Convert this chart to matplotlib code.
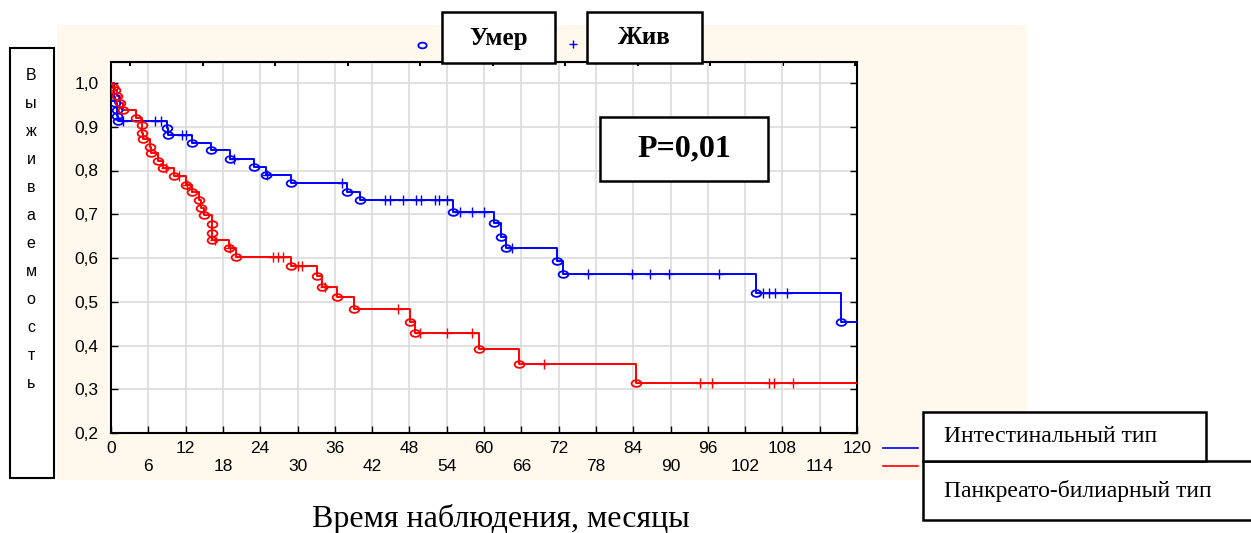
import numpy as np
import matplotlib.pyplot as plt
from matplotlib.patches import Rectangle
from matplotlib.path import Path
from matplotlib.transforms import Affine2D

# intestinal type: deaths (time, survival after death) and censored times
int_death_t = [0.5, 0.7, 0.9, 1.0, 1.1, 9.0, 9.2, 13.1, 16.1, 19.1, 23.0, 25.0,
               29.0, 38.0, 40.0, 55.0, 61.6, 62.7, 63.6, 71.7, 72.7, 103.7, 117.4]
int_death_s = [0.969, 0.954, 0.938, 0.925, 0.914, 0.898, 0.881, 0.864, 0.846,
               0.827, 0.807, 0.789, 0.771, 0.751, 0.733, 0.706, 0.679, 0.649,
               0.623, 0.594, 0.563, 0.519, 0.454]
int_cens_t = [2.0, 7.0, 8.0, 11.4, 12.1, 19.8, 25.1, 37.1, 44.1, 44.9, 47.0, 49.1,
              49.8, 52.1, 52.8, 54.0, 56.1, 58.0, 60.0, 64.5, 76.8, 83.8, 86.7,
              89.8, 97.8, 104.8, 105.9, 106.8, 108.7]

# pancreato-biliary type
pb_death_t = [0.3, 0.6, 1.0, 1.5, 2.0, 4.0, 5.0, 5.05, 5.1, 6.2, 6.5, 7.5, 8.4,
              10.1, 12.1, 13.0, 14.2, 14.4, 15.0, 16.2, 16.25, 16.3, 19.0, 20.1,
              29.0, 33.1, 33.9, 36.3, 39.1, 48.1, 48.9, 59.2, 65.7, 84.4]
pb_death_s = [0.992, 0.985, 0.970, 0.954, 0.938, 0.919, 0.904, 0.886, 0.872,
              0.853, 0.839, 0.822, 0.805, 0.787, 0.768, 0.752, 0.733, 0.715,
              0.698, 0.677, 0.658, 0.641, 0.622, 0.603, 0.582, 0.559, 0.534,
              0.510, 0.483, 0.454, 0.428, 0.392, 0.357, 0.315]
pb_cens_t = [8.9, 11.0, 12.2, 16.8, 19.2, 26.1, 26.9, 27.7, 30.0, 30.8, 34.4,
             46.1, 49.7, 54.1, 58.0, 69.7, 94.7, 96.7, 105.9, 106.7, 109.7]

x_major = list(range(0, 121, 12))
x_minor = list(range(6, 120, 12))
y_ticks = [0.2, 0.3, 0.4, 0.5, 0.6, 0.7, 0.8, 0.9, 1.0]
top_ticks = np.linspace(3.06, 119.7, 11)

W, H = 1251, 533
fig = plt.figure(figsize=(W / 100, H / 100), dpi=100)
fig.patch.set_facecolor('white')


def fx(x):
    return x / W


def fy(y):
    return 1 - y / H


def box(x0, y0, x1, y1, **kw):
    fig.add_artist(Rectangle((fx(x0), fy(y1)), fx(x1) - fx(x0), fy(y0) - fy(y1),
                             transform=fig.transFigure, **kw))


box(57, 25, 1027, 480, facecolor='#fef9ec', edgecolor='none', zorder=-2)

ax = fig.add_axes([fx(111), fy(433), fx(857) - fx(111), fy(62) - fy(433)])
ax.set_facecolor('white')

ell = Path.unit_circle().transformed(Affine2D().scale(1.45, 1.0))


def km(dt, ds, ct, color):
    dt = np.asarray(dt)
    ds = np.asarray(ds)
    t = np.r_[0, dt, 120]
    s = np.r_[1, ds, ds[-1]]
    ax.step(t, s, where='post', color=color, lw=1.4, zorder=3)
    ax.plot(dt, ds, ls='none', marker=ell, ms=7, mfc='none', mec=color,
            mew=1.3, zorder=4)
    idx = np.searchsorted(dt, ct, side='right') - 1
    cs = np.where(idx >= 0, ds[np.clip(idx, 0, None)], 1.0)
    ax.plot(ct, cs, ls='none', marker='+', ms=7, mec=color, mew=1.0, zorder=4)


km(int_death_t, int_death_s, int_cens_t, '#0000ff')
km(pb_death_t, pb_death_s, pb_cens_t, '#ff0000')

ax.set_xlim(0, 120)
ax.set_ylim(0.2, 1.048)
tick_font = dict(family='Liberation Sans', size=12.5)
ax.set_xticks(x_major)
ax.set_xticklabels([str(v) for v in x_major], fontdict=tick_font)
ax.set_xticks(x_minor, minor=True)
ax.set_xticklabels([str(v) for v in x_minor], minor=True, fontdict=tick_font)
ax.set_yticks(y_ticks)
ax.set_yticklabels([f'{v:.1f}'.replace('.', ',') for v in y_ticks], fontdict=tick_font)
ax.tick_params(axis='x', which='major', direction='in', length=5, width=1, pad=6)
ax.tick_params(axis='x', which='minor', direction='in', length=5, width=1, pad=19)
ax.tick_params(axis='y', direction='in', length=5, width=1, right=True, pad=9)
ax.grid(True, which='both', axis='x', color='#dcdcdc', lw=1.2)
ax.grid(True, axis='y', color='#dcdcdc', lw=1.2)
ax.set_axisbelow(True)
for sp in ax.spines.values():
    sp.set_linewidth(1.5)

top = ax.secondary_xaxis('top')
top.set_xticks(top_ticks)
top.set_xticklabels([])
top.tick_params(direction='in', length=3, width=1.5)

# vertical y-axis label in its own box
box(10, 48, 54, 478, facecolor='white', edgecolor='black', lw=1.5, zorder=5)
for i, ch in enumerate('Выживаемость'):
    fig.text(fx(31), fy(75 + 28 * i), ch, ha='center', va='center',
             family='Liberation Sans', fontsize=11.5, zorder=6)

# top legend (markers)
box(442, 12, 555, 63, facecolor='white', edgecolor='black', lw=1.8, zorder=5)
box(587, 12, 702, 63, facecolor='white', edgecolor='black', lw=1.8, zorder=5)
fig.text(fx(498.5), fy(38), 'Умер', ha='center', va='center', family='Liberation Serif',
         weight='bold', fontsize=18, zorder=6)
fig.text(fx(644.5), fy(38), 'Жив', ha='center', va='center', family='Liberation Serif',
         weight='bold', fontsize=18, zorder=6)
fig.add_artist(plt.Line2D([fx(422)], [fy(45)], marker=ell, ms=6, mfc='none',
                          mec='#0000ff', mew=1.3, ls='none', transform=fig.transFigure))
fig.add_artist(plt.Line2D([fx(573)], [fy(44)], marker='+', ms=6, mec='#0000ff',
                          mew=1.0, ls='none', transform=fig.transFigure))

# p-value box
box(600, 117, 768, 181, facecolor='white', edgecolor='black', lw=1.8, zorder=5)
fig.text(fx(684), fy(149), 'P=0,01', ha='center', va='center', family='Liberation Serif',
         weight='bold', fontsize=23, zorder=6)

# bottom-right legend (lines)
fig.add_artist(plt.Line2D([fx(883), fx(918)], [fy(448), fy(448)], color='#0000ff',
                          lw=1.2, transform=fig.transFigure))
fig.add_artist(plt.Line2D([fx(883), fx(918)], [fy(466), fy(466)], color='#ff0000',
                          lw=1.2, transform=fig.transFigure))
box(923, 461, 1262, 520, facecolor='white', edgecolor='black', lw=1.8, zorder=5)
box(923, 412, 1206, 461, facecolor='white', edgecolor='black', lw=1.8, zorder=5)
fig.text(fx(944), fy(437), 'Интестинальный тип', ha='left', va='center',
         family='Liberation Serif', fontsize=17, zorder=6)
fig.text(fx(944), fy(491), 'Панкреато-билиарный тип', ha='left', va='center',
         family='Liberation Serif', fontsize=17, zorder=6)

fig.text(fx(501), fy(519), 'Время наблюдения, месяцы', ha='center', va='center',
         family='Liberation Serif', fontsize=23)

fig.savefig('out.png', dpi=100)
